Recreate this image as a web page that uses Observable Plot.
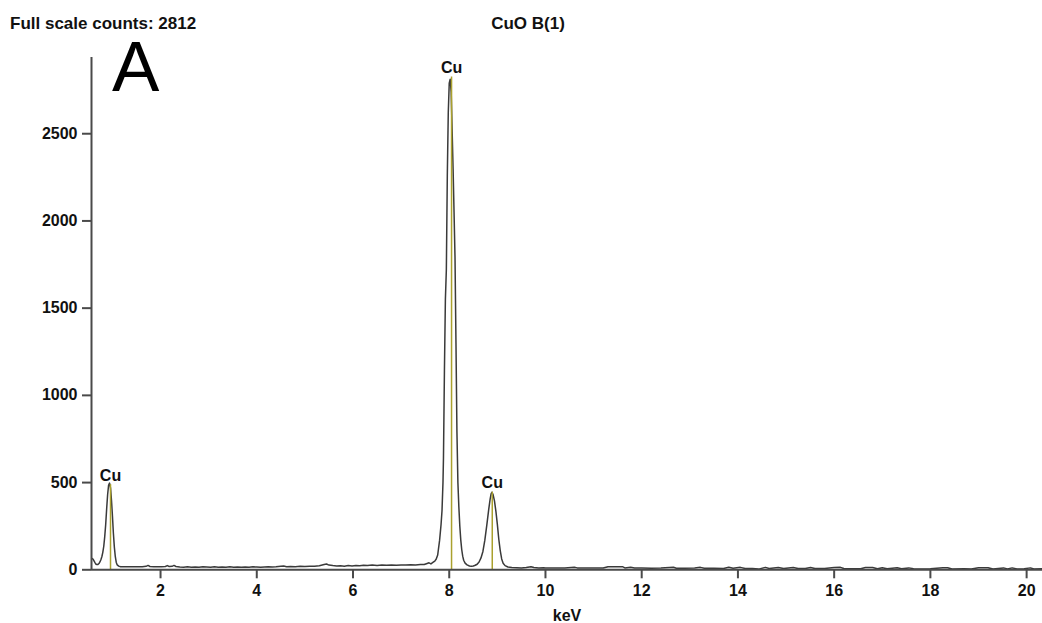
<!DOCTYPE html>
<html><head><meta charset="utf-8">
<script src="https://cdn.jsdelivr.net/npm/d3@7"></script>
<script src="https://cdn.jsdelivr.net/npm/@observablehq/plot@0.6"></script>
<style>
body{margin:0;background:#fff;font-family:"Liberation Sans",Arial,sans-serif;}
#wrap{position:relative;width:1042px;height:623px;overflow:hidden;background:#fff}
#header{height:40px;position:relative}
.t{position:absolute;font-weight:bold;font-size:17px;line-height:17px;color:#111;white-space:nowrap}
#panel{position:absolute;left:112px;top:31px;font-size:71px;line-height:71px;color:#000;z-index:2}
#chart svg{display:block}
</style></head><body>
<div id="wrap">
 <div id="header">
  <div class="t" id="fs" style="left:10px;top:15px"></div>
  <div class="t" id="ttl" style="left:428px;width:200px;text-align:center;top:15px"></div>
 </div>
 <div id="chart"></div>
 <div id="panel">A</div>
</div>
<script>
const titleText = "CuO B(1)";
const fullScaleCounts = 2812;
const panelLetter = "A";

// spectrum, keV vs counts
const energyKeV = [
 0.58,0.60,0.62,0.64,0.66,0.68,0.70,0.72,0.74,0.76,0.78,0.80,0.82,0.84,0.86,0.88,0.90,0.92,0.94,0.96,0.98,1.00,1.02,1.04,1.06,1.08,1.10,1.13,1.17,1.22,
 1.30,1.38,1.46,1.54,1.62,1.70,1.74,1.78,1.86,1.94,2.02,2.10,2.14,2.18,2.24,2.28,2.32,2.40,2.48,2.56,2.64,2.72,2.80,2.88,2.96,3.04,3.12,3.20,3.28,3.36,
 3.44,3.52,3.60,3.68,3.76,3.84,3.92,4.00,4.08,4.16,4.24,4.32,4.40,4.50,4.56,4.62,4.70,4.80,4.90,5.00,5.10,5.20,5.30,5.40,5.45,5.50,5.58,5.66,5.74,5.82,
 5.90,5.98,6.06,6.14,6.22,6.30,6.40,6.50,6.60,6.70,6.80,6.90,7.00,7.10,7.20,7.30,7.40,7.48,7.54,7.58,7.62,7.66,7.70,7.73,7.76,
 7.80,7.83,7.85,7.87,7.88,7.90,7.92,7.94,7.96,7.98,8.00,8.02,8.04,8.06,8.08,8.10,8.12,8.14,8.16,8.18,8.20,8.22,8.24,8.26,8.28,8.30,8.33,8.37,8.42,8.46,8.50,
 8.54,8.58,8.62,8.66,8.70,8.74,8.78,8.82,8.85,8.87,8.89,8.91,8.94,8.97,9.00,9.03,9.06,9.09,9.12,9.16,9.22,9.30,
 9.40,9.50,9.60,9.70,9.76,9.86,9.96,10.0,10.2,10.4,10.6,10.66,10.8,11.0,11.2,11.3,11.6,11.65,11.77,11.85,12.0,12.2,12.4,12.66,12.72,12.9,13.1,13.22,13.3,13.5,
 13.7,13.81,13.9,14.05,14.15,14.3,14.43,14.57,14.65,14.84,14.95,15.15,15.25,15.4,15.51,15.6,15.8,16.0,16.13,16.2,16.4,16.55,16.65,16.8,16.9,17.0,17.1,17.31,17.4,17.55,
 17.65,17.8,18.0,18.26,18.36,18.45,18.7,18.85,19.0,19.1,19.2,19.3,19.52,19.6,19.7,19.8,19.95,20.08,20.15,20.33
];
const counts = [
 65,60,50,40,32,30,31,36,45,58,75,100,135,190,260,350,430,485,497,470,400,310,210,130,75,42,28,21,18,17,
 18,17,18,17,18,20,25,19,18,17,18,19,24,19,20,25,19,16,15,17,15,16,15,17,16,15,17,15,16,15,
 17,15,16,14,16,15,17,16,14,16,18,16,17,20,22,18,19,18,20,19,20,21,23,30,33,27,24,22,23,21,
 24,22,25,23,26,24,27,25,27,26,28,26,28,27,29,28,31,30,36,40,34,42,50,62,85,
 170,260,340,500,640,1140,1550,1720,2260,2620,2790,2812,2740,2520,2300,2050,1790,1300,790,500,360,250,170,115,78,55,38,28,22,20,22,
 26,32,45,68,105,170,255,345,405,435,445,432,395,335,260,175,110,62,38,24,16,13,
 12,11,13,18,13,11,12,11,10,11,15,11,10,11,10,18,18,11,15,10,10,9,10,15,9,9,10,14,9,9,
 8,15,9,14,8,8,4,14,8,13,8,13,8,7,13,7,7,13,14,7,6,6,13,13,6,12,6,12,6,11,
 6,5,6,12,12,5,6,5,12,12,12,5,11,5,11,5,6,11,5,6
];

// identified element lines
const peakKeV = [0.96, 8.048, 8.894];
const peakTop = [488, 2825, 445];
const peakLabels = ["Cu", "Cu", "Cu"];

const xTicks = [2,4,6,8,10,12,14,16,18,20];
const yTicks = [0,500,1000,1500,2000,2500];
const xDomain = [0.565, 20.33];
const yDomain = [0, 2937];
const xLabel = "keV";

document.getElementById("fs").textContent = "Full scale counts: " + fullScaleCounts;
document.getElementById("ttl").textContent = titleText;
document.getElementById("panel").textContent = panelLetter;

const spectrum = energyKeV.map((e, i) => ({keV: e, counts: counts[i]}));
const peaks = peakKeV.map((e, i) => ({keV: e, counts: peakTop[i], label: peakLabels[i]}));

const chart = Plot.plot({
  width: 1042, height: 583,
  marginLeft: 91, marginRight: 0, marginTop: 17, marginBottom: 53.7,
  x: {domain: xDomain},
  y: {domain: yDomain},
  style: {fontFamily: "'Liberation Sans', Arial, sans-serif", fontSize: "16px", fontWeight: "bold", color: "#111", background: "#fff", overflow: "visible"},
  marks: [
    Plot.axisY({ticks: yTicks, tickSize: 9, tickPadding: 5, stroke: "#4a4a4a", strokeWidth: 2, label: null, fontSize: 16, fontWeight: "bold", tickFormat: d => String(d)}),
    Plot.axisX({ticks: xTicks, tickSize: 9, tickPadding: 6, stroke: "#4a4a4a", strokeWidth: 2, label: xLabel, labelAnchor: "center", labelArrow: "none", fontSize: 16, fontWeight: "bold", tickFormat: d => String(d)}),
    Plot.line(spectrum, {x: "keV", y: "counts", stroke: "#3a3a3a", strokeWidth: 1.5}),
    Plot.ruleX(peaks, {x: "keV", y1: 0, y2: "counts", stroke: "#aaa12e", strokeWidth: 1.5}),
    Plot.text(peaks, {x: "keV", y: "counts", text: "label", dy: -4, lineAnchor: "bottom", fontSize: 16, fontWeight: "bold", fill: "#111"}),
    Plot.ruleY([0], {stroke: "#4a4a4a", strokeWidth: 2}),
    Plot.ruleX([xDomain[0]], {stroke: "#4a4a4a", strokeWidth: 2})
  ]
});
document.getElementById("chart").appendChild(chart);
</script>
</body></html>
